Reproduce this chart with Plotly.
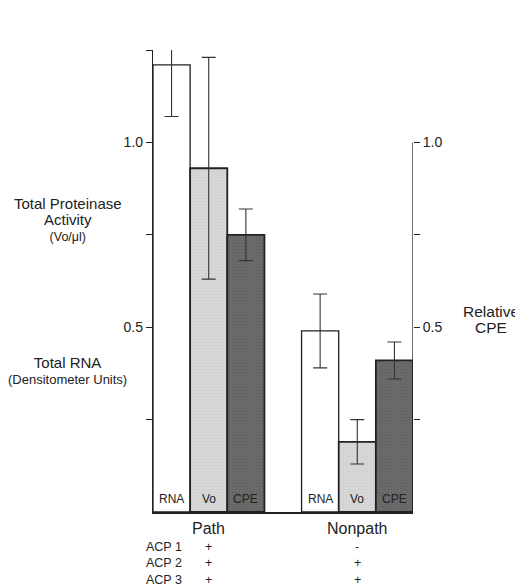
import plotly.graph_objects as go

groups = ["Path", "Nonpath"]
measures = ["RNA", "Vo", "CPE"]
path_values = [1.21, 0.93, 0.75]
nonpath_values = [0.49, 0.19, 0.41]
path_err = [0.14, 0.30, 0.07]
nonpath_err = [0.10, 0.06, 0.05]
acp_labels = ["ACP 1", "ACP 2", "ACP 3"]
acp_path = ["+", "+", "+"]
acp_nonpath = ["-", "+", "+"]
left_ticks = [0.25, 0.5, 0.75, 1.0, 1.25]
left_ticktext = ["", "0.5", "", "1.0", ""]
right_ticks = [0.25, 0.5, 0.75, 1.0]
right_ticktext = ["", "0.5", "", "1.0"]

fills = {"RNA": "#ffffff", "Vo": "#d9d9d9", "CPE": "#6c6c6c"}
dots = {"RNA": None, "Vo": "#c4c4c4", "CPE": "#555555"}
FONT = "Liberation Sans, Arial, sans-serif"
INK = "#222222"

fig = go.Figure()
group_vals = [path_values, nonpath_values]
group_errs = [path_err, nonpath_err]
for mi, m in enumerate(measures):
    xs = [gi * 4 + mi for gi in range(len(groups))]
    ys = [group_vals[gi][mi] for gi in range(len(groups))]
    es = [group_errs[gi][mi] for gi in range(len(groups))]
    marker = dict(color=fills[m], line=dict(color=INK, width=1.3 if m == "RNA" else 1.8))
    if dots[m]:
        marker["pattern"] = dict(shape=".", fgcolor=dots[m], bgcolor=fills[m],
                                 size=3, solidity=0.4)
    fig.add_trace(go.Bar(
        x=xs, y=ys, width=1, name=m, marker=marker,
        error_y=dict(type="data", array=es, visible=True, color="#333333",
                     thickness=1.1, width=7),
        showlegend=False,
    ))
    for x in xs:
        fig.add_annotation(x=x, y=0, xref="x", yref="y", text=m, showarrow=False,
                           yanchor="bottom", yshift=4,
                           font=dict(family=FONT, size=12, color=INK))

# invisible trace for right axis
fig.add_trace(go.Scatter(x=[6.5], y=[0], yaxis="y2", mode="markers",
                         marker=dict(opacity=0), showlegend=False, hoverinfo="skip"))

fig.update_layout(
    width=515, height=580,
    margin=dict(l=145, r=110, t=42, b=76),
    paper_bgcolor="white", plot_bgcolor="white",
    barmode="overlay",
    font=dict(family=FONT, color=INK),
    xaxis=dict(range=[-0.5, 6.5], showgrid=False, zeroline=False,
               showline=True, linecolor=INK, linewidth=1.5,
               showticklabels=False, ticks=""),
    yaxis=dict(range=[0, 1.25], showgrid=False, zeroline=False,
               showline=True, linecolor=INK, linewidth=1.3,
               tickvals=left_ticks, ticktext=left_ticktext,
               ticks="outside", ticklen=6, tickcolor=INK, tickwidth=1.2,
               tickfont=dict(size=14, family=FONT)),
    yaxis2=dict(range=[0, 1.25], overlaying="y", side="right", anchor="x",
                showgrid=False, zeroline=False, showline=False,
                tickvals=right_ticks, ticktext=right_ticktext,
                ticks="outside", ticklen=6, tickcolor=INK, tickwidth=1.2,
                tickfont=dict(size=14, family=FONT)),
)

# right axis line (0 to 1.0)
fig.add_shape(type="line", xref="x", yref="y", x0=6.5, x1=6.5, y0=0, y1=1.0,
              line=dict(color=INK, width=1.3))

def ann(text, x, y, size, xref="paper", yref="paper"):
    fig.add_annotation(text=text, x=x, y=y, xref=xref, yref=yref, showarrow=False,
                       xanchor="center", yanchor="middle",
                       font=dict(family=FONT, size=size, color=INK))

def sz(text, px):
    return f"<span style='font-size:{px}px'>{text}</span>"

ann(sz("Total Proteinase", 15) + "<br>" + sz("Activity", 15) + "<br>" + sz("(Vo/μl)", 12.5),
    -0.327, 0.634, 12.3)
ann(sz("Total RNA", 15) + "<br>" + sz("(Densitometer Units)", 13),
    -0.327, 0.307, 12.3)
ann(sz("Relative", 15.5) + "<br>" + sz("CPE", 15.5), 1.300, 0.4156, 12.3)

for gi, g in enumerate(groups):
    ann(g, gi * 4 + 1, -0.036, 16, xref="x")

acp_y = [-0.076, -0.111, -0.148]
for i, lab in enumerate(acp_labels):
    ann(lab, -0.2, acp_y[i], 12.5, xref="x")
    ann(acp_path[i], 1, acp_y[i], 12.5, xref="x")
    ann(acp_nonpath[i], 5, acp_y[i], 12.5, xref="x")

fig.write_html("out.html")
